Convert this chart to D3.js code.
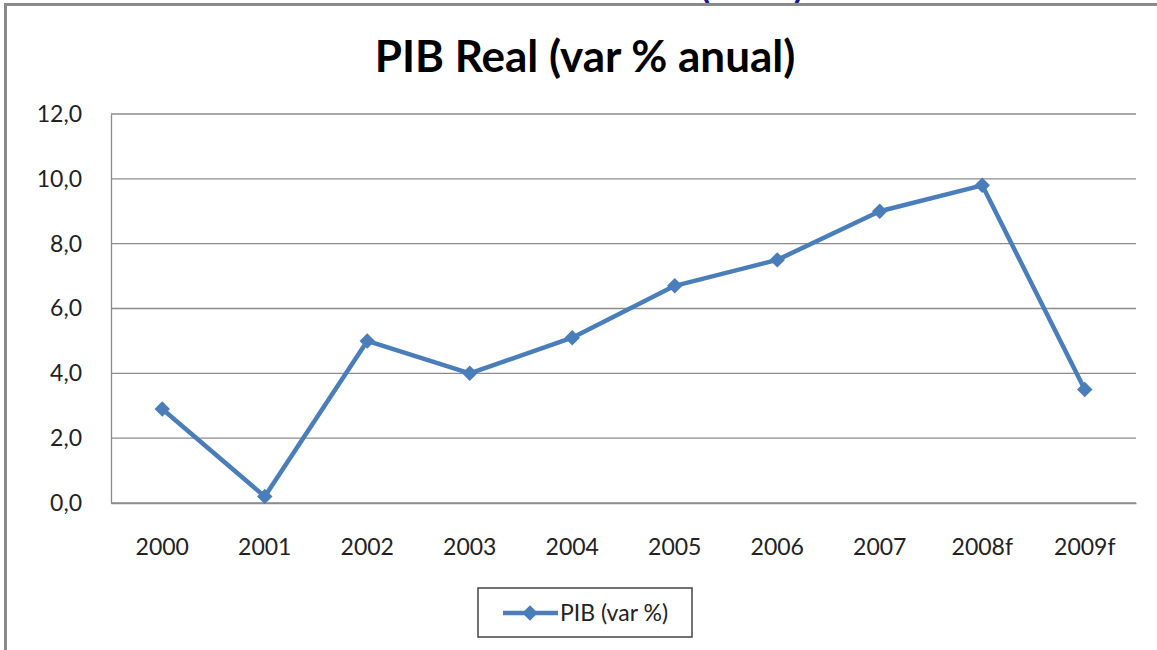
<!DOCTYPE html>
<html>
<head>
<meta charset="utf-8">
<script src="https://cdn.jsdelivr.net/npm/d3@7"></script>
<style>
  body { margin: 0; background: #fff; }
  svg { display: block; }
</style>
</head>
<body>
<script>
// data
var years = ["2000", "2001", "2002", "2003", "2004", "2005", "2006", "2007", "2008f", "2009f"];
var pib = [2.9, 0.2, 5.0, 4.0, 5.1, 6.7, 7.5, 9.0, 9.8, 3.5];
var yTicks = [0, 2, 4, 6, 8, 10, 12];
var title = "PIB Real (var % anual)";
var seriesName = "PIB (var %)";

var width = 1157, height = 650;
var margin = {left: 111, right: 21, top: 114, bottom: 147};
var blue = "#4a7ebb";
var font = "Lato, 'Open Sans', sans-serif";

var svg = d3.select("body").append("svg")
    .attr("width", width)
    .attr("height", height);

// frame of the slide / chart object (heading above is cut off)
svg.append("text")
    .attr("x", 752).attr("y", -1)
    .attr("text-anchor", "middle")
    .attr("font-family", font)
    .attr("font-weight", "bold")
    .attr("font-size", 36)
    .attr("fill", "#1a1a8c")
    .text("(2009)");
svg.append("line")
    .attr("x1", 4).attr("x2", width).attr("y1", 4.5).attr("y2", 4.5)
    .attr("stroke", "#8a8a8a").attr("stroke-width", 3);
svg.append("line")
    .attr("x1", 5.5).attr("x2", 5.5).attr("y1", 3).attr("y2", height)
    .attr("stroke", "#8a8a8a").attr("stroke-width", 3);

var x = d3.scaleBand()
    .domain(years)
    .range([margin.left, width - margin.right]);

var y = d3.scaleLinear()
    .domain([0, 12])
    .range([height - margin.bottom, margin.top]);

// title
svg.append("text")
    .attr("x", 585).attr("y", 72)
    .attr("text-anchor", "middle")
    .attr("font-family", font)
    .attr("font-weight", "bold")
    .attr("font-size", 44)
    .attr("fill", "#000")
    .text(title);

// gridlines
svg.append("g")
  .selectAll("line")
  .data(yTicks)
  .join("line")
    .attr("x1", margin.left).attr("x2", width - margin.right)
    .attr("y1", d => y(d)).attr("y2", d => y(d))
    .attr("stroke", "#8c8c8c").attr("stroke-width", 1.3);

// y axis
var yAxis = svg.append("g")
    .attr("transform", `translate(${margin.left},0)`)
    .call(d3.axisLeft(y).tickValues(yTicks)
        .tickFormat(d => d3.format(".1f")(d).replace(".", ","))
        .tickSize(0).tickPadding(29));
yAxis.select(".domain").attr("stroke", "#8c8c8c").attr("stroke-width", 1.3);
yAxis.selectAll("text")
    .attr("font-family", font)
    .attr("font-size", 23)
    .attr("fill", "#222");

// x axis
var xAxis = svg.append("g")
    .attr("transform", `translate(0,${height - margin.bottom})`)
    .call(d3.axisBottom(x).tickSize(0).tickPadding(36));
xAxis.select(".domain").attr("stroke", "#8c8c8c").attr("stroke-width", 1.3);
xAxis.selectAll("text")
    .attr("font-family", font)
    .attr("font-size", 23)
    .attr("fill", "#222");

// series
var line = d3.line()
    .x((d, i) => x(years[i]) + x.bandwidth() / 2)
    .y(d => y(d));

svg.append("path")
    .datum(pib)
    .attr("fill", "none")
    .attr("stroke", blue)
    .attr("stroke-width", 4.5)
    .attr("stroke-linejoin", "round")
    .attr("d", line);

var diamond = d3.symbol().type(d3.symbolSquare).size(120);
svg.append("g")
  .selectAll("path")
  .data(pib)
  .join("path")
    .attr("d", diamond)
    .attr("fill", blue)
    .attr("transform", (d, i) => `translate(${x(years[i]) + x.bandwidth() / 2},${y(d)}) rotate(45)`);

// legend
var lg = svg.append("g").attr("transform", "translate(478,588)");
lg.append("rect")
    .attr("width", 214).attr("height", 49)
    .attr("fill", "#fff")
    .attr("stroke", "#444").attr("stroke-width", 1.5);
lg.append("line")
    .attr("x1", 25).attr("x2", 80).attr("y1", 25).attr("y2", 25)
    .attr("stroke", blue).attr("stroke-width", 4.5);
lg.append("path")
    .attr("d", diamond)
    .attr("fill", blue)
    .attr("transform", "translate(52,25) rotate(45)");
lg.append("text")
    .attr("x", 82).attr("y", 33)
    .attr("font-family", font)
    .attr("font-size", 23)
    .attr("fill", "#222")
    .text(seriesName);
</script>
</body>
</html>
